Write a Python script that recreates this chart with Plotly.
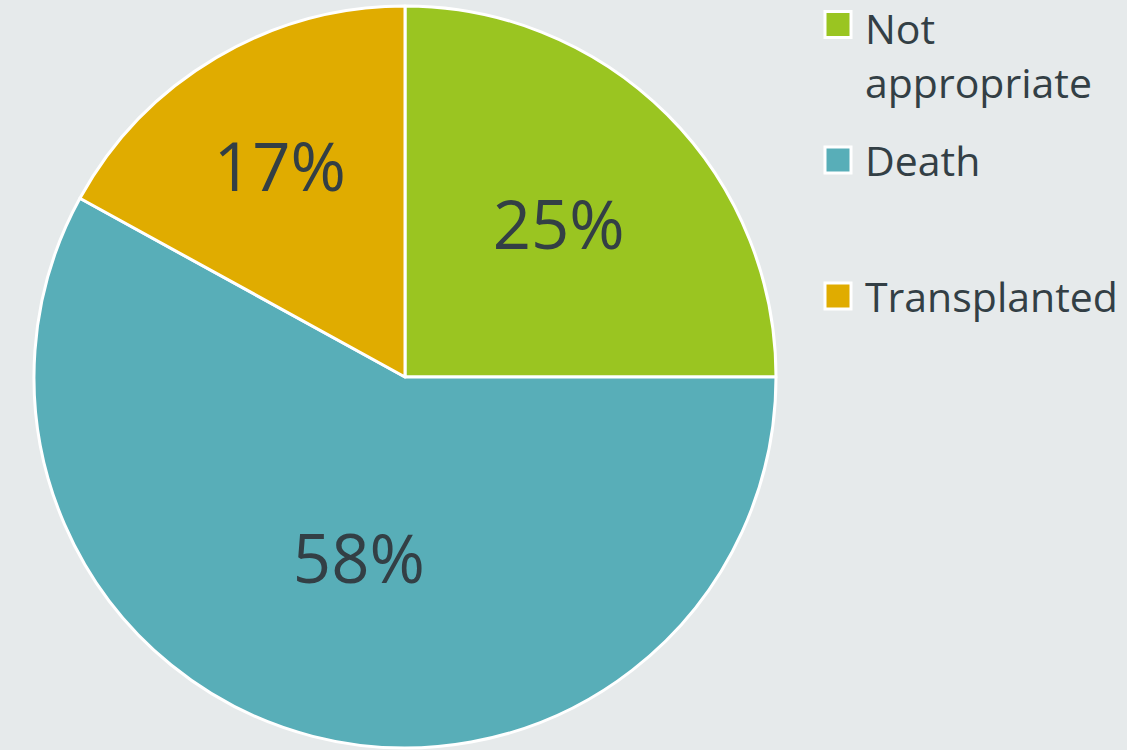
import plotly.graph_objects as go

labels = ["Not appropriate", "Death", "Transplanted"]
values = [25, 58, 17]
colors = ["#9ac521", "#58aeb8", "#e0ac00"]

# legend text lines (label wrapped as in the original legend)
legend_lines = [["Not", "appropriate"], ["Death"], ["Transplanted"]]

W, H = 1127, 750
TEXT = "#333f45"

fig = go.Figure(go.Pie(
    labels=labels,
    values=values,
    sort=False,
    direction="clockwise",
    rotation=0,
    marker=dict(colors=colors, line=dict(color="white", width=3)),
    texttemplate="%{percent:.0%}",
    textposition="inside",
    insidetextorientation="horizontal",
    textfont=dict(family="Open Sans", size=67, color=TEXT),
    hoverinfo="label+percent",
    domain=dict(x=[34/W, 776/W], y=[2/H, 744/H]),
    showlegend=False,
))

# manual legend (layout positions)
item_centers = [24.5, 160, 296]   # px from top
line_gap = 57
shapes, annotations = [], []
for i, (lines, col) in enumerate(zip(legend_lines, colors)):
    cy = item_centers[i]
    shapes.append(dict(
        type="rect", xref="paper", yref="paper",
        x0=825/W, x1=851/W, y0=1-(cy+13)/H, y1=1-(cy-13)/H,
        fillcolor=col, line=dict(color="white", width=3),
    ))
    for j, ln in enumerate(lines):
        if i == 0 and j == 0:
            ypos, yanc = 1.0, "top"
        else:
            ypos, yanc = 1-(cy + j*line_gap)/H, "middle"
        annotations.append(dict(
            text=ln, xref="paper", yref="paper",
            x=865/W, y=ypos,
            xanchor="left", yanchor=yanc, showarrow=False,
            borderpad=0, borderwidth=0,
            font=dict(family="Open Sans", size=41, color=TEXT),
        ))

fig.update_layout(
    width=W, height=H,
    margin=dict(l=0, r=0, t=0, b=0),
    paper_bgcolor="#e6eaeb",
    plot_bgcolor="#e6eaeb",
    font=dict(family="Open Sans", color=TEXT),
    showlegend=False,
    shapes=shapes,
    annotations=annotations,
)

fig.write_html("out.html")
